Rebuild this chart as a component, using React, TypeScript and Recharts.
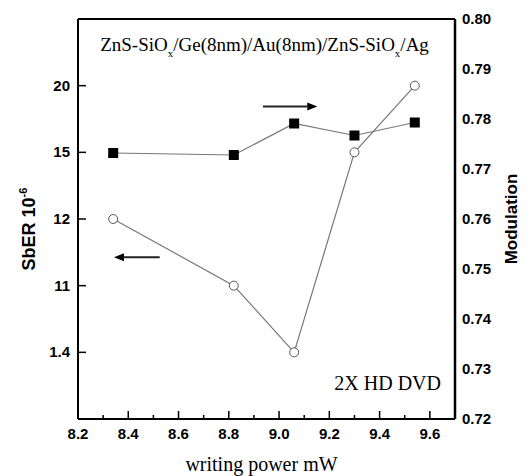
import React from 'react';
import { ComposedChart, Line, XAxis, YAxis, ReferenceLine, Customized } from 'recharts';

// writing power (mW)
const writingPower = [8.34, 8.82, 9.06, 9.3, 9.54];
// SbER (x10^-6), plotted on an ordinal-style axis
const sber = [12, 11, 1.4, 15, 20];
// Modulation (right axis)
const modulation = [0.7732, 0.7728, 0.7791, 0.7767, 0.7793];

const sberTickLabels = [1.4, 11, 12, 15, 20];
const sberTickPositions = [1, 2, 3, 4, 5];
const xTicks = [8.2, 8.3, 8.4, 8.5, 8.6, 8.7, 8.8, 8.9, 9.0, 9.1, 9.2, 9.3, 9.4, 9.5, 9.6, 9.7];
const modTicks = [0.72, 0.73, 0.74, 0.75, 0.76, 0.77, 0.78, 0.79, 0.8];

const rightArrow = { x1: 8.936, x2: 9.152, y: 0.7825 };
const leftArrow = { x1: 8.525, x2: 8.343, y: 2.425 };

const data = writingPower.map((x, i) => ({
  x,
  sberPos: sberTickPositions[sberTickLabels.indexOf(sber[i])],
  mod: modulation[i],
}));

const SANS = "'Liberation Sans', Arial, Helvetica, sans-serif";
const SERIF = "'Liberation Serif', 'Times New Roman', Times, serif";

const XTick = (props: any) => {
  const { x, y, payload } = props;
  const v = payload.value as number;
  const major = Math.round(v * 10) % 2 === 0;
  return (
    <g>
      <line x1={x} x2={x} y1={y} y2={y - (major ? 8 : 4)} stroke="#000" strokeWidth={1.5} />
      {major && v < 9.65 && (
        <text x={x} y={y + 20} textAnchor="middle" fontFamily={SANS} fontWeight="bold" fontSize={15} fill="#000">
          {v.toFixed(1)}
        </text>
      )}
    </g>
  );
};

const LeftTick = (props: any) => {
  const { x, y, payload } = props;
  const idx = sberTickPositions.indexOf(payload.value);
  return (
    <g>
      <line x1={x} x2={x + 8} y1={y} y2={y} stroke="#000" strokeWidth={1.5} />
      <text x={x - 8} y={y + 5} textAnchor="end" fontFamily={SANS} fontWeight="bold" fontSize={15} fill="#000">
        {String(sberTickLabels[idx])}
      </text>
    </g>
  );
};

const RightTick = (props: any) => {
  const { x, y, payload } = props;
  return (
    <text x={x + 7} y={y + 5} textAnchor="start" fontFamily={SANS} fontWeight="bold" fontSize={15} fill="#000">
      {(payload.value as number).toFixed(2)}
    </text>
  );
};

const SquareDot = (props: any) => {
  const { cx, cy } = props;
  if (cx == null || cy == null) return null;
  return <rect x={cx - 5} y={cy - 5} width={10} height={10} fill="#000" />;
};

const CircleDot = (props: any) => {
  const { cx, cy } = props;
  if (cx == null || cy == null) return null;
  return <circle cx={cx} cy={cy} r={4.5} fill="#fff" stroke="#555" strokeWidth={1} />;
};

const arrowShape = (p: any) => {
  const { x1, y1, x2, y2 } = p;
  const dx = x2 - x1;
  const dy = y2 - y1;
  const len = Math.hypot(dx, dy) || 1;
  const ux = dx / len;
  const uy = dy / len;
  const head = 10;
  const hw = 4;
  const bx = x2 - ux * head;
  const by = y2 - uy * head;
  return (
    <g>
      <line x1={x1} y1={y1} x2={bx} y2={by} stroke="#222" strokeWidth={2} />
      <polygon
        points={`${x2},${y2} ${bx - uy * hw},${by + ux * hw} ${bx + uy * hw},${by - ux * hw}`}
        fill="#000"
      />
    </g>
  );
};

const Annotations = (props: any) => {
  const off = props.offset || { left: 78, top: 19, width: 377, height: 400 };
  const cx = off.left + off.width / 2;
  const right = off.left + off.width;
  const bottom = off.top + off.height;
  return (
    <g>
      <text x={cx - 2} y={off.top + 32} textAnchor="middle" fontFamily={SERIF} fontSize={19} fill="#000">
        ZnS-SiO
        <tspan dy={6} fontSize={11}>x</tspan>
        <tspan dy={-6}>/Ge(8nm)/Au(8nm)/ZnS-SiO</tspan>
        <tspan dy={6} fontSize={11}>x</tspan>
        <tspan dy={-6}>/Ag</tspan>
      </text>
      <text x={right - 14} y={bottom - 29} textAnchor="end" fontFamily={SERIF} fontSize={20} fill="#000">
        2X HD DVD
      </text>
      <text x={cx - 5} y={bottom + 52} textAnchor="middle" fontFamily={SERIF} fontSize={20} fill="#000">
        writing power mW
      </text>
      <text
        transform={`translate(35, ${off.top + off.height / 2 + 10}) rotate(-90)`}
        textAnchor="middle"
        fontFamily={SANS}
        fontWeight="bold"
        fontSize={18}
        fill="#000"
      >
        SbER 10
        <tspan dy={-8} fontSize={11}>-6</tspan>
      </text>
      <text
        transform={`translate(${right + 62}, ${off.top + off.height / 2}) rotate(-90)`}
        textAnchor="middle"
        fontFamily={SANS}
        fontWeight="bold"
        fontSize={17}
        fill="#000"
      >
        Modulation
      </text>
    </g>
  );
};

export default function App() {
  return (
    <div style={{ position: 'absolute', left: 0, top: 0, width: 532, height: 476, background: '#fff' }}>
      <ComposedChart width={532} height={476} data={data} margin={{ top: 19, right: 17, bottom: 17, left: 18 }}>
        <XAxis
          dataKey="x"
          type="number"
          domain={[8.2, 9.7]}
          ticks={xTicks}
          interval={0}
          allowDataOverflow
          tickSize={0}
          tickMargin={0}
          tick={<XTick />}
          axisLine={{ stroke: '#000', strokeWidth: 2 }}
          height={40}
        />
        <YAxis
          yAxisId="sber"
          orientation="left"
          type="number"
          domain={[0, 6]}
          ticks={sberTickPositions}
          interval={0}
          tickSize={0}
          tickMargin={0}
          tick={<LeftTick />}
          axisLine={{ stroke: '#000', strokeWidth: 2 }}
          width={60}
        />
        <YAxis
          yAxisId="mod"
          orientation="right"
          type="number"
          domain={[0.72, 0.8]}
          ticks={modTicks}
          interval={0}
          tickSize={0}
          tickMargin={0}
          tick={<RightTick />}
          axisLine={{ stroke: '#000', strokeWidth: 2.5 }}
          width={60}
        />
        <ReferenceLine yAxisId="mod" y={0.8} stroke="#000" strokeWidth={2} />
        <ReferenceLine
          yAxisId="mod"
          segment={[
            { x: rightArrow.x1, y: rightArrow.y },
            { x: rightArrow.x2, y: rightArrow.y },
          ]}
          shape={arrowShape}
        />
        <ReferenceLine
          yAxisId="sber"
          segment={[
            { x: leftArrow.x1, y: leftArrow.y },
            { x: leftArrow.x2, y: leftArrow.y },
          ]}
          shape={arrowShape}
        />
        <Line
          yAxisId="mod"
          dataKey="mod"
          stroke="#777"
          strokeWidth={1.2}
          dot={<SquareDot />}
          isAnimationActive={false}
        />
        <Line
          yAxisId="sber"
          dataKey="sberPos"
          stroke="#777"
          strokeWidth={1.2}
          dot={<CircleDot />}
          isAnimationActive={false}
        />
        <Customized component={Annotations} />
      </ComposedChart>
    </div>
  );
}
